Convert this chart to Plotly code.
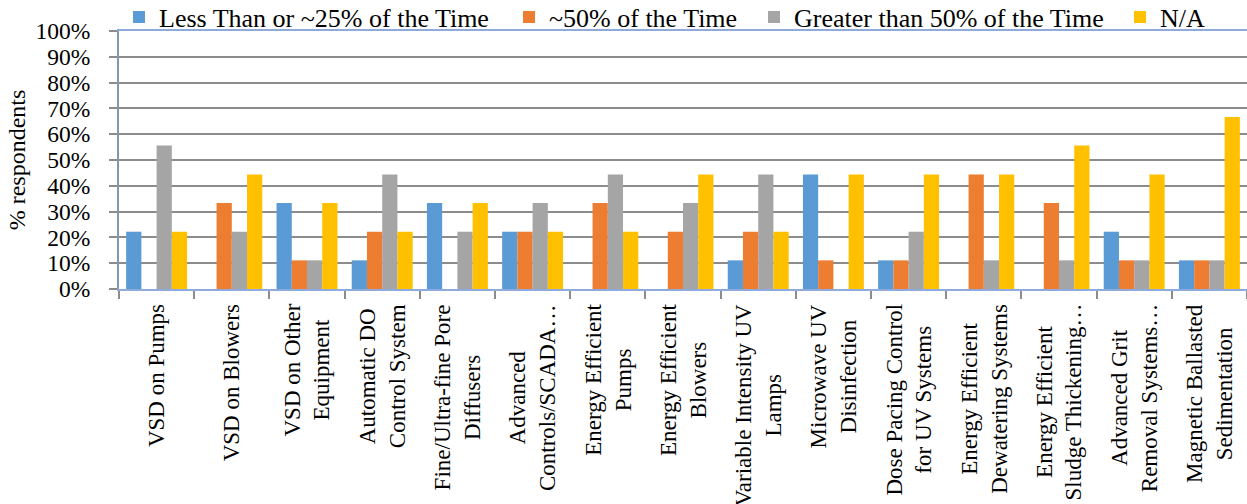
import plotly.graph_objects as go

categories = [
    "VSD on Pumps", "VSD on Blowers", "VSD on Other<br>Equipment",
    "Automatic DO<br>Control System", "Fine/Ultra-fine Pore<br>Diffusers",
    "Advanced<br>Controls/SCADA…", "Energy Efficient<br>Pumps",
    "Energy Efficient<br>Blowers", "Variable Intensity UV<br>Lamps",
    "Microwave UV<br>Disinfection", "Dose Pacing Control<br>for UV Systems",
    "Energy Efficient<br>Dewatering Systems", "Energy Efficient<br>Sludge Thickening…",
    "Advanced Grit<br>Removal Systems…", "Magnetic Ballasted<br>Sedimentation",
]
cat_ids = [f"c{i}" for i in range(len(categories))]

less_25 = [22.2, 0, 33.3, 11.1, 33.3, 22.2, 0, 0, 11.1, 44.4, 11.1, 0, 0, 22.2, 11.1]
about_50 = [0, 33.3, 11.1, 22.2, 0, 22.2, 33.3, 22.2, 22.2, 11.1, 11.1, 44.4, 33.3, 11.1, 11.1]
greater_50 = [55.6, 22.2, 11.1, 44.4, 22.2, 33.3, 44.4, 33.3, 44.4, 0, 22.2, 11.1, 11.1, 11.1, 11.1]
na = [22.2, 44.4, 33.3, 22.2, 33.3, 22.2, 22.2, 44.4, 22.2, 44.4, 44.4, 44.4, 55.6, 44.4, 66.7]

series_names = ["Less Than or ~25% of the Time", "~50% of the Time",
                "Greater than 50% of the Time", "N/A"]
series_values = [less_25, about_50, greater_50, na]
series_colors = ["#5B9BD5", "#ED7D31", "#A5A5A5", "#FFC000"]

y_ticks = list(range(0, 101, 10))
y_tick_text = [f"{v}%" for v in y_ticks]

FONT = "Liberation Serif, Times New Roman, serif"
W, H = 1247, 504

# legend entry left edges (px, container) – layout only
legend_left_px = [119, 509, 754, 1120]
legend_ids = ["legend", "legend2", "legend3", "legend4"]

fig = go.Figure()
for name, vals, color, lid in zip(series_names, series_values, series_colors, legend_ids):
    fig.add_trace(go.Bar(name=name, x=cat_ids, y=vals, legend=lid,
                         marker=dict(color=color, line=dict(width=0))))

for cid, label in zip(cat_ids, categories):
    fig.add_annotation(
        x=cid, xref="x", y=0, yref="paper", yshift=-13,
        text=label, textangle=-90, showarrow=False,
        xanchor="center", yanchor="top", align="center",
        font=dict(family=FONT, size=23, color="black"),
    )

legend_layout = {}
for lid, px in zip(legend_ids, legend_left_px):
    legend_layout[lid] = dict(
        orientation="h", xref="container", yref="container",
        x=px / W, xanchor="left", y=1 - 17 / H, yanchor="middle",
        font=dict(family=FONT, size=26, color="black"),
        itemwidth=30, bgcolor="rgba(0,0,0,0)", borderwidth=0,
    )

fig.update_layout(
    width=W, height=H,
    margin=dict(l=119, r=0, t=31, b=215, autoexpand=False),
    paper_bgcolor="white", plot_bgcolor="white",
    barmode="group", bargap=0.19, bargroupgap=0,
    font=dict(family=FONT, size=24, color="black"),
    showlegend=True,
    **legend_layout,
)
fig.update_xaxes(
    showticklabels=False, ticks="outside", tickson="boundaries", ticklen=8,
    tickcolor="#8C8C8C", tickwidth=1.5,
    showline=True, linecolor="#8FAADC", linewidth=2, mirror=True,
    showgrid=False, zeroline=False, categoryorder="array", categoryarray=cat_ids,
    automargin=False,
)
fig.update_yaxes(
    range=[0, 100], tickvals=y_ticks, ticktext=y_tick_text,
    ticks="outside", ticklen=8, tickcolor="#8C8C8C", tickwidth=1.5,
    ticklabelstandoff=14,
    showline=True, linecolor="#8497B0", linewidth=2,
    showgrid=True, gridcolor="#8C8C8C", gridwidth=1.5, zeroline=False,
    title=dict(text="% respondents", font=dict(family=FONT, size=24), standoff=3),
    tickfont=dict(family=FONT, size=23.5, color="black"),
    automargin=False,
)

fig.write_html(
    "out.html",
    config={"displayModeBar": False},
    post_script="document.body.style.margin='0';document.body.style.overflow='hidden';",
)
